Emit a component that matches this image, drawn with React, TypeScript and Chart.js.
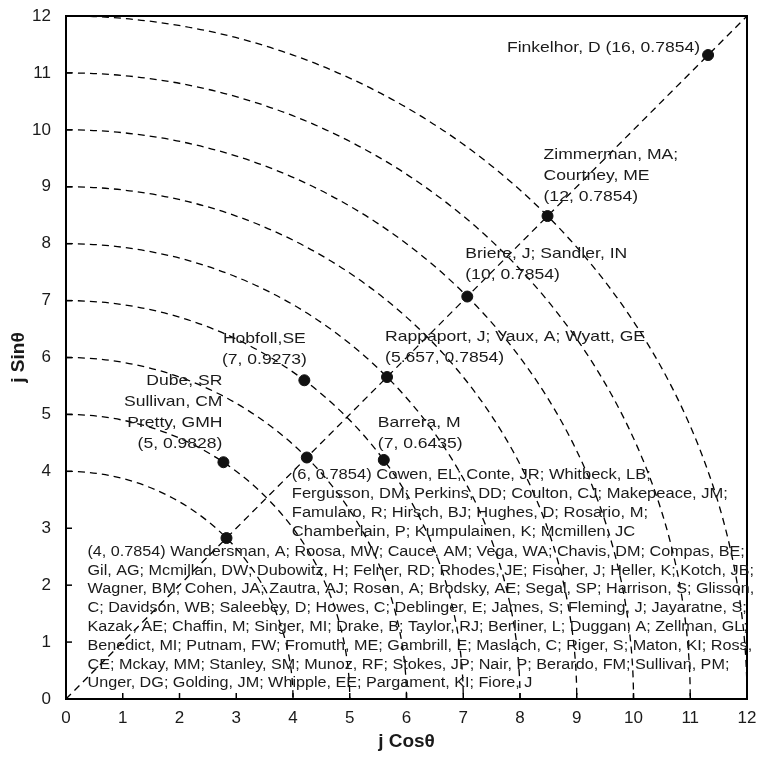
import React, { useEffect, useRef } from "react";
import { Chart, registerables } from "chart.js";

Chart.register(...registerables);

// Point positions (j cosθ, j sinθ)
const X_VALUES = [2.828, 2.774, 4.243, 4.2, 5.6, 5.657, 7.071, 8.485, 11.314];
const Y_VALUES = [2.828, 4.16, 4.243, 5.6, 4.2, 5.657, 7.071, 8.485, 11.314];

// Radii of the dashed reference arcs
const ARC_RADII = [4, 5, 6, 7, 8, 9, 10, 11, 12];

// Axis range / ticks
const AXIS_MIN = 0;
const AXIS_MAX = 12;
const TICK_STEP = 1;

const X_TITLE = "j Cosθ";
const Y_TITLE = "j Sinθ";

// Text of each point's label (one entry per point, lines)
const POINT_LABELS: string[][] = [
  [
    "(4, 0.7854) Wandersman, A; Roosa, MW; Cauce, AM; Vega, WA; Chavis, DM; Compas, BE;",
    "Gil, AG; Mcmillan, DW; Dubowitz, H; Felner, RD; Rhodes, JE; Fischer, J; Heller, K; Kotch, JB;",
    "Wagner, BM; Cohen, JA; Zautra, AJ; Rosen, A; Brodsky, AE; Segal, SP; Harrison, S; Glisson,",
    "C; Davidson, WB; Saleebey, D; Howes, C; Deblinger, E; James, S; Fleming, J; Jayaratne, S;",
    "Kazak, AE; Chaffin, M; Singer, MI; Drake, B; Taylor, RJ; Berliner, L; Duggan, A; Zellman, GL;",
    "Benedict, MI; Putnam, FW; Fromuth, ME; Gambrill, E; Maslach, C; Riger, S; Maton, KI; Ross,",
    "CE; Mckay, MM; Stanley, SM; Munoz, RF; Stokes, JP; Nair, P; Berardo, FM; Sullivan, PM;",
    "Unger, DG; Golding, JM; Whipple, EE; Pargament, KI; Fiore, J",
  ],
  ["Dube, SR", "Sullivan, CM", "Pretty, GMH", "(5, 0.9828)"],
  [
    "(6, 0.7854) Cowen, EL; Conte, JR; Whitbeck, LB;",
    "Fergusson, DM; Perkins, DD; Coulton, CJ; Makepeace, JM;",
    "Famularo, R; Hirsch, BJ; Hughes, D; Rosario, M;",
    "Chamberlain, P; Kumpulainen, K; Mcmillen, JC",
  ],
  ["Hobfoll,SE", "(7, 0.9273)"],
  ["Barrera, M", "(7, 0.6435)"],
  ["Rappaport, J; Vaux, A; Wyatt, GE", "(5.657, 0.7854)"],
  ["Briere, J; Sandler, IN", "(10, 0.7854)"],
  ["Zimmerman, MA;", "Courtney, ME", "(12, 0.7854)"],
  ["Finkelhor, D (16, 0.7854)"],
];

// Label placement relative to its point (pixels), kept apart from data
const LABEL_LAYOUT = [
  { dx: -139, dy: 14, align: "left", size: 14, gap: 18.8, stretch: 1.155 },
  { dx: -1, dy: -81, align: "right", size: 15, gap: 21, stretch: 1.17 },
  { dx: -15, dy: 18, align: "left", size: 14, gap: 19, stretch: 1.18 },
  { dx: -40, dy: -41, align: "center", size: 15, gap: 21, stretch: 1.17 },
  { dx: -6, dy: -37, align: "left", size: 15, gap: 21, stretch: 1.17 },
  { dx: -2, dy: -40, align: "left", size: 15, gap: 20.5, stretch: 1.17 },
  { dx: -2, dy: -43, align: "left", size: 15, gap: 21, stretch: 1.17 },
  { dx: -4, dy: -61, align: "left", size: 15, gap: 21, stretch: 1.17 },
  { dx: -8, dy: -7.5, align: "right", size: 15, gap: 21, stretch: 1.17 },
];

const FONT = "'Liberation Sans', Arial, Helvetica, sans-serif";

const arcsPlugin = {
  id: "arcs",
  beforeDatasetsDraw(chart: any) {
    const { ctx, chartArea, scales } = chart;
    const xs = scales.x;
    const ys = scales.y;
    const x0 = xs.getPixelForValue(0);
    const y0 = ys.getPixelForValue(0);
    ctx.save();
    ctx.beginPath();
    ctx.rect(chartArea.left, chartArea.top, chartArea.right - chartArea.left, chartArea.bottom - chartArea.top);
    ctx.clip();
    ctx.strokeStyle = "#000";
    ctx.lineWidth = 1.3;
    ctx.setLineDash([7, 5]);
    for (const r of ARC_RADII) {
      const rx = xs.getPixelForValue(r) - x0;
      const ry = y0 - ys.getPixelForValue(r);
      ctx.beginPath();
      ctx.ellipse(x0, y0, rx, ry, 0, -Math.PI / 2, 0);
      ctx.stroke();
    }
    ctx.restore();
  },
  afterDraw(chart: any) {
    const { ctx, chartArea, scales } = chart;
    const xs = scales.x;
    const ys = scales.y;
    ctx.save();
    // frame
    ctx.strokeStyle = "#000";
    ctx.lineWidth = 2;
    ctx.setLineDash([]);
    ctx.strokeRect(chartArea.left, chartArea.top, chartArea.right - chartArea.left, chartArea.bottom - chartArea.top);
    // inward tick marks
    ctx.lineWidth = 1.5;
    for (const t of xs.ticks) {
      const px = xs.getPixelForValue(t.value);
      ctx.beginPath();
      ctx.moveTo(px, chartArea.bottom);
      ctx.lineTo(px, chartArea.bottom - 6);
      ctx.stroke();
    }
    for (const t of ys.ticks) {
      const py = ys.getPixelForValue(t.value);
      ctx.beginPath();
      ctx.moveTo(chartArea.left, py);
      ctx.lineTo(chartArea.left + 6, py);
      ctx.stroke();
    }
    // labels
    ctx.fillStyle = "#1a1a1a";
    ctx.textBaseline = "middle";
    POINT_LABELS.forEach((lines, i) => {
      const lay = LABEL_LAYOUT[i];
      const px = xs.getPixelForValue(X_VALUES[i]);
      const py = ys.getPixelForValue(Y_VALUES[i]);
      ctx.font = `${lay.size}px ${FONT}`;
      ctx.textAlign = lay.align;
      lines.forEach((line, k) => {
        ctx.save();
        ctx.translate(px + lay.dx, py + lay.dy + k * lay.gap);
        ctx.scale(lay.stretch, 1);
        ctx.fillText(line, 0, 0);
        ctx.restore();
      });
    });
    ctx.restore();
  },
};

function zeroPadding(scale: any) {
  scale.paddingTop = 0;
  scale.paddingBottom = 0;
  scale.paddingLeft = 0;
  scale.paddingRight = 0;
}

export default function App() {
  const canvasRef = useRef<HTMLCanvasElement | null>(null);

  useEffect(() => {
    document.body.style.margin = "0";
    const canvas = canvasRef.current;
    if (!canvas) return;
    const points = X_VALUES.map((x, i) => ({ x, y: Y_VALUES[i] }));
    const chart = new Chart(canvas, {
      type: "scatter",
      data: {
        datasets: [
          {
            data: points,
            backgroundColor: "#111",
            borderColor: "#111",
            pointRadius: 5.5,
            pointHoverRadius: 5.5,
            order: 0,
          },
          {
            data: [
              { x: AXIS_MIN, y: AXIS_MIN },
              { x: AXIS_MAX, y: AXIS_MAX },
            ],
            showLine: true,
            borderColor: "#000",
            borderWidth: 1.3,
            borderDash: [7, 5],
            pointRadius: 0,
            order: 1,
          } as any,
        ],
      },
      options: {
        animation: false,
        responsive: false,
        maintainAspectRatio: false,
        layout: { padding: { top: 16, right: 14, left: 0, bottom: 0 } },
        plugins: { legend: { display: false }, tooltip: { enabled: false } },
        scales: {
          x: {
            type: "linear",
            min: AXIS_MIN,
            max: AXIS_MAX,
            grid: { display: false, drawTicks: false, tickLength: 0 },
            border: { display: true, width: 2, color: "#000" },
            ticks: {
              stepSize: TICK_STEP,
              padding: 9,
              color: "#1a1a1a",
              font: { family: FONT, size: 17 },
              maxRotation: 0,
            },
            title: {
              display: true,
              text: X_TITLE,
              color: "#1a1a1a",
              font: { family: FONT, size: 19, weight: "bold" },
              padding: { top: 0, bottom: 8 },
            },
            afterFit(scale: any) {
              scale.height = 62;
              zeroPadding(scale);
            },
          },
          y: {
            type: "linear",
            min: AXIS_MIN,
            max: AXIS_MAX,
            grid: { display: false, drawTicks: false, tickLength: 0 },
            border: { display: true, width: 2, color: "#000" },
            ticks: {
              stepSize: TICK_STEP,
              padding: 15,
              color: "#1a1a1a",
              font: { family: FONT, size: 17 },
            },
            title: {
              display: true,
              text: Y_TITLE,
              color: "#1a1a1a",
              font: { family: FONT, size: 19, weight: "bold" },
              padding: { top: 7, bottom: 0 },
            },
            afterFit(scale: any) {
              scale.width = 66;
              zeroPadding(scale);
            },
          },
        },
      } as any,
      plugins: [arcsPlugin],
    });
    return () => chart.destroy();
  }, []);

  return (
    <div style={{ width: 761, height: 761 }}>
      <canvas ref={canvasRef} width={761} height={761} style={{ display: "block" }} />
    </div>
  );
}
